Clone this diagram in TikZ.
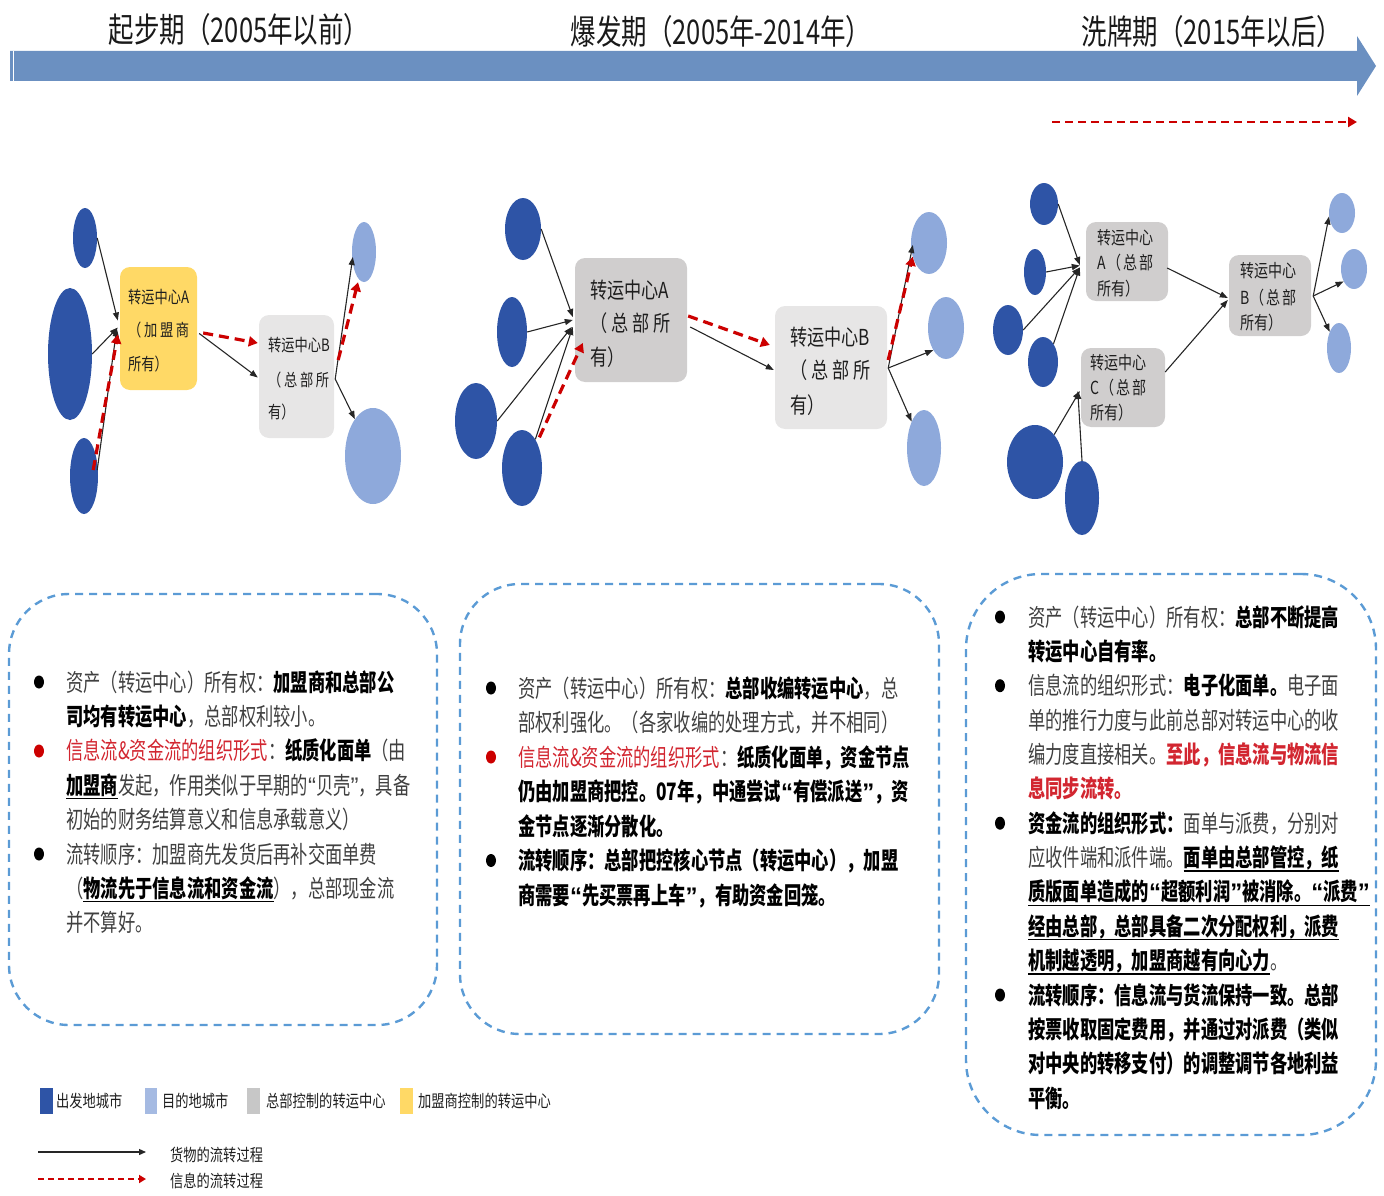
\documentclass[tikz,border=0pt]{standalone}
\usepackage{fontspec}
\usetikzlibrary{shapes.geometric,arrows.meta}

\newfontfamily\bodyfont[FakeStretch=0.72]{Noto Sans CJK SC}
\newfontfamily\lblfont[FakeStretch=0.78]{Noto Sans CJK SC}
\newfontfamily\ttlfont[FakeStretch=0.75]{Noto Sans CJK SC}
\newfontfamily\quotefont{Liberation Sans}

\definecolor{cityA}{RGB}{46,84,166}
\definecolor{cityB}{RGB}{142,169,219}
\definecolor{franchise}{RGB}{255,217,102}
\definecolor{hqdark}{RGB}{208,206,206}
\definecolor{hqlight}{RGB}{231,230,230}
\definecolor{banner}{RGB}{107,144,193}
\definecolor{frame}{RGB}{91,155,213}
\definecolor{flowred}{RGB}{204,0,0}
\definecolor{redtxt}{RGB}{210,38,48}
\definecolor{bodygray}{RGB}{64,64,64}
\definecolor{lblgray}{RGB}{30,30,30}

% inline text helpers
\newcommand\bk[1]{{\bfseries\color{black}#1}}
\newcommand\rd[1]{{\color{redtxt}#1}}
\newcommand\rdb[1]{{\bfseries\color{redtxt}#1}}
\newcommand\oq{{\quotefont “}}
\newcommand\cq{{\quotefont ”}}
\newsavebox\ulbox
\newcommand\ulbar[1]{\sbox\ulbox{#1}\rlap{\color{black}\rule[-5pt]{\wd\ulbox}{1.3pt}}\usebox\ulbox}
\newcommand\spreadto[2]{\makebox[#1][s]{#2}}

\tikzset{
  citysrc/.style={ellipse, fill=cityA, inner sep=0pt},
  citydst/.style={ellipse, fill=cityB, inner sep=0pt},
  hubbox/.style={rounded corners=10pt, inner sep=0pt},
  goods/.style={draw=black!85, line width=1.1pt, -{Triangle[length=8pt,width=6pt]}},
  info/.style={draw=flowred, line width=3.2pt, dash pattern=on 10pt off 6pt,
               -{Triangle[length=9pt,width=10pt]}},
  bodyline/.style={anchor=base west, inner sep=0pt, text=bodygray,
                   font={\bodyfont\fontsize{24pt}{30pt}\selectfont}},
  hublbl/.style={anchor=base west, inner sep=0pt, text=lblgray},
  lblS/.style={hublbl, font={\lblfont\fontsize{17pt}{17pt}\selectfont}},
  lblM/.style={hublbl, font={\lblfont\fontsize{22pt}{22pt}\selectfont}},
  lblT/.style={hublbl, font={\lblfont\fontsize{18pt}{18pt}\selectfont}},
  dot/.style={ellipse, fill=black, minimum width=10pt, minimum height=13pt, inner sep=0pt},
  reddot/.style={dot, fill=flowred},
  panel/.style={draw=frame, line width=2.4pt, dash pattern=on 8pt off 6pt},
  ttl/.style={inner sep=0pt, text=black!90, font={\ttlfont\fontsize{34pt}{34pt}\selectfont}},
  key/.style={anchor=base west, inner sep=0pt, text=lblgray,
              font={\lblfont\fontsize{17pt}{17pt}\selectfont}},
}

\begin{document}
\begin{tikzpicture}[x=1pt,y=-1pt]
\useasboundingbox (0,0) rectangle (1384,1196);

% ---------- time line ----------
\fill[banner] (10,51) -- (1357,51) -- (1357,36) -- (1376,66) -- (1357,96)
              -- (1357,81) -- (10,81) -- cycle;
\draw[white, line width=0.8pt] (13.5,51) -- (13.5,81);
\node[ttl] (ttl1) at (239,30) {起步期（2005年以前）};
\node[ttl] (ttl2) at (721,32) {爆发期（2005年-2014年）};
\node[ttl] (ttl3) at (1212,32) {洗牌期（2015年以后）};
\coordinate (shufStart) at (1052,122);
\coordinate (shufEnd) at (1357,122);
\draw[info, line width=2.8pt, dash pattern=on 8pt off 5pt] (shufStart) -- (shufEnd);

% ---------- stage 1 network ----------
\node[citysrc, minimum width=24pt, minimum height=60pt] (e11) at (85,238) {};
\node[citysrc, minimum width=44pt, minimum height=132pt] (e12) at (70,354) {};
\node[citysrc, minimum width=28pt, minimum height=76pt] (e13) at (84,476) {};
\node[hubbox, fill=franchise, minimum width=77pt, minimum height=123pt] (A1) at (158.5,328.5) {};
\node[hubbox, fill=hqlight, minimum width=75pt, minimum height=123pt] (B1) at (296.5,376.5) {};
\node[citydst, minimum width=24pt, minimum height=60pt] (r11) at (364,252) {};
\node[citydst, minimum width=56pt, minimum height=96pt] (r12) at (373,456) {};

\node[lblS] (A1a) at (128,303) {转运中心A};
\node[lblS] (A1b) at (128,336) {\spreadto{61pt}{（\hfill 加\hfill 盟\hfill 商}};
\node[lblS] (A1c) at (128,370) {所有）};
\node[lblS] (B1a) at (268,351) {转运中心B};
\node[lblS] (B1b) at (268,386) {\spreadto{61pt}{（\hfill 总\hfill 部\hfill 所}};
\node[lblS] (B1c) at (268,418) {有）};

\draw[goods] (e11.east) -- ([shift={(-2,-8)}]A1.west);
\draw[goods] (e12.east) -- ([shift={(-2,-1)}]A1.west);
\draw[goods] ([shift={(-1,-6)}]e13.east) -- ([shift={(-3,0)}]A1.west);
\draw[info] ([shift={(-5,-6)}]e13.east) -- ([shift={(-2,6)}]A1.west);
\draw[goods] ([shift={(2,5)}]A1.east) -- ([shift={(-1,1)}]B1.west);
\draw[info] ([shift={(6,4.5)}]A1.east) -- ([shift={(-1,-33.5)}]B1.west);
\draw[goods] ([shift={(1,2.5)}]B1.east) -- ([shift={(1,5)}]r11.west);
\draw[info] ([shift={(4,-16.5)}]B1.east) -- ([shift={(-6,0)}]r11.south);
\draw[goods] ([shift={(1,2.5)}]B1.east) -- (r12);

% ---------- stage 2 network ----------
\node[citysrc, minimum width=36pt, minimum height=62pt] (e21) at (523,229) {};
\node[citysrc, minimum width=30pt, minimum height=70pt] (e22) at (512,332) {};
\node[citysrc, minimum width=42pt, minimum height=76pt] (e23) at (476,421) {};
\node[citysrc, minimum width=40pt, minimum height=76pt] (e24) at (522,468) {};
\node[hubbox, fill=hqdark, minimum width=112pt, minimum height=124pt] (A2) at (631,320) {};
\node[hubbox, fill=hqlight, minimum width=112pt, minimum height=123pt] (B2) at (831,367.5) {};
\node[citydst, minimum width=36pt, minimum height=62pt] (r21) at (929,243) {};
\node[citydst, minimum width=36pt, minimum height=62pt] (r22) at (946,328) {};
\node[citydst, minimum width=34pt, minimum height=76pt] (r23) at (924,448) {};

\node[lblM] (A2a) at (590,298) {转运中心A};
\node[lblM] (A2b) at (590,331) {\spreadto{80pt}{（\hfill 总\hfill 部\hfill 所}};
\node[lblM] (A2c) at (590,365) {有）};
\node[lblM] (B2a) at (790,345) {转运中心B};
\node[lblM] (B2b) at (790,378) {\spreadto{80pt}{（\hfill 总\hfill 部\hfill 所}};
\node[lblM] (B2c) at (790,413) {有）};

\draw[goods] (e21.east) -- ([shift={(-2,-3)}]A2.west);
\draw[goods] (e22.east) -- ([shift={(-2,0)}]A2.west);
\draw[goods] (e23.east) -- ([shift={(-3,7)}]A2.west);
\draw[goods] (e24.65) -- ([shift={(-2,7)}]A2.west);
\draw[info] ([shift={(4,-2)}]e24.65) -- ([shift={(8,23)}]A2.west);
\draw[goods] ([shift={(3,7)}]A2.east) -- ([shift={(-1,2.5)}]B2.west);
\draw[info] ([shift={(1,-4)}]A2.east) -- ([shift={(-5,-22.5)}]B2.west);
\draw[goods] ([shift={(1,0.5)}]B2.east) -- ([shift={(2,2)}]r21.west);
\draw[info] ([shift={(1,-7.5)}]B2.east) -- (r21.220);
\draw[goods] ([shift={(1,0.5)}]B2.east) -- (r22.240);
\draw[goods] ([shift={(1,0.5)}]B2.east) -- (r23.115);

% ---------- stage 3 network ----------
\node[citysrc, minimum width=28pt, minimum height=42pt] (e31) at (1044,204) {};
\node[citysrc, minimum width=22pt, minimum height=46pt] (e32) at (1035,272) {};
\node[citysrc, minimum width=30pt, minimum height=50pt] (e33) at (1008,330) {};
\node[citysrc, minimum width=30pt, minimum height=50pt] (e34) at (1043,362) {};
\node[citysrc, minimum width=56pt, minimum height=74pt] (e35) at (1035,462) {};
\node[citysrc, minimum width=34pt, minimum height=74pt] (e36) at (1082,498) {};
\node[hubbox, fill=hqdark, minimum width=82pt, minimum height=79pt] (A3) at (1127,261.5) {};
\node[hubbox, fill=hqdark, minimum width=84pt, minimum height=79pt] (C3) at (1123,387.5) {};
\node[hubbox, fill=hqdark, minimum width=82pt, minimum height=81pt] (B3) at (1270,295.5) {};
\node[citydst, minimum width=26pt, minimum height=40pt] (r31) at (1342,213) {};
\node[citydst, minimum width=26pt, minimum height=40pt] (r32) at (1354,269) {};
\node[citydst, minimum width=24pt, minimum height=50pt] (r33) at (1339,348) {};

\node[lblT] (A3a) at (1097,244) {转运中心};
\node[lblT] (A3b) at (1097,269) {\spreadto{56pt}{A\hfill （\hfill 总\hfill 部}};
\node[lblT] (A3c) at (1097,295) {所有）};
\node[lblT] (C3a) at (1090,369) {转运中心};
\node[lblT] (C3b) at (1090,394) {\spreadto{56pt}{C\hfill （\hfill 总\hfill 部}};
\node[lblT] (C3c) at (1090,419) {所有）};
\node[lblT] (B3a) at (1240,277) {转运中心};
\node[lblT] (B3b) at (1240,304) {\spreadto{56pt}{B\hfill （\hfill 总\hfill 部}};
\node[lblT] (B3c) at (1240,329) {所有）};

\draw[goods] (e31.east) -- ([shift={(-6,3.5)}]A3.west);
\draw[goods] (e32.east) -- ([shift={(-6,4)}]A3.west);
\draw[goods] (e33.east) -- ([shift={(-6,6)}]A3.west);
\draw[goods] (e34.60) -- ([shift={(-6,6)}]A3.west);
\draw[goods] ([shift={(-1,6.5)}]A3.east) -- ([shift={(-1,2.5)}]B3.west);
\draw[goods] ([shift={(0,-15.5)}]C3.east) -- ([shift={(-1,4.5)}]B3.west);
\draw[goods] (e35.55) -- ([shift={(-1,3.5)}]C3.west);
\draw[goods] (e36.north) -- ([shift={(-3,3.5)}]C3.west);
\draw[goods] ([shift={(2,0.5)}]B3.east) -- (r31.195);
\draw[goods] ([shift={(2,0.5)}]B3.east) -- (r32.230);
\draw[goods] ([shift={(2,0.5)}]B3.east) -- (r33.120);

% ---------- description panels ----------
\node[panel, rounded corners=60pt, minimum width=428pt, minimum height=431pt] (panel1) at (223,809.5) {};
\node[panel, rounded corners=60pt, minimum width=479pt, minimum height=450pt] (panel2) at (699.5,809) {};
\node[panel, rounded corners=75pt, minimum width=410pt, minimum height=561pt] (panel3) at (1171,854.5) {};

% panel 1
\node[dot] (p1d1) at (39,682) {};
\node[reddot] (p1d2) at (39,751) {};
\node[dot] (p1d3) at (39,854) {};
\node[bodyline] (p1l1) at (66,691) {资产（转运中心）所有权：\bk{加盟商和总部公}};
\node[bodyline] (p1l2) at (66,725.4) {\bk{司均有转运中心}，总部权利较小。};
\node[bodyline] (p1l3) at (66,759.8) {\rd{信息流\&资金流的组织形式}：\bk{纸质化面单}（由};
\node[bodyline] (p1l4) at (66,794.2) {\ulbar{\bk{加盟商}}发起，作用类似于早期的\oq 贝壳\cq ，具备};
\node[bodyline] (p1l5) at (66,828.6) {初始的财务结算意义和信息承载意义）};
\node[bodyline] (p1l6) at (66,863) {流转顺序：加盟商先发货后再补交面单费};
\node[bodyline] (p1l7) at (66,897.4) {（\ulbar{\bk{物流先于信息流和资金流}}），总部现金流};
\node[bodyline] (p1l8) at (66,931.8) {并不算好。};

% panel 2
\node[dot] (p2d1) at (491,688) {};
\node[reddot] (p2d2) at (491,757) {};
\node[dot] (p2d3) at (491,860.5) {};
\node[bodyline] (p2l1) at (518,697) {资产（转运中心）所有权：\bk{总部收编转运中心}，总};
\node[bodyline] (p2l2) at (518,731.5) {部权利强化。（各家收编的处理方式，并不相同）};
\node[bodyline] (p2l3) at (518,766) {\rd{信息流\&资金流的组织形式}：\bk{纸质化面单，资金节点}};
\node[bodyline] (p2l4) at (518,800.5) {\bk{仍由加盟商把控。07年，中通尝试\oq 有偿派送\cq ，资}};
\node[bodyline] (p2l5) at (518,835) {\bk{金节点逐渐分散化。}};
\node[bodyline] (p2l6) at (518,869.5) {\bk{流转顺序：总部把控核心节点（转运中心），加盟}};
\node[bodyline] (p2l7) at (518,904) {\bk{商需要\oq 先买票再上车\cq ，有助资金回笼。}};

% panel 3
\node[dot] (p3d1) at (1000,617) {};
\node[dot] (p3d2) at (1000,685.7) {};
\node[dot] (p3d3) at (1000,823.2) {};
\node[dot] (p3d4) at (1000,995) {};
\node[bodyline] (p3l1) at (1028,626) {资产（转运中心）所有权：\bk{总部不断提高}};
\node[bodyline] (p3l2) at (1028,660.4) {\bk{转运中心自有率。}};
\node[bodyline] (p3l3) at (1028,694.7) {信息流的组织形式：\bk{电子化面单。}电子面};
\node[bodyline] (p3l4) at (1028,729.1) {单的推行力度与此前总部对转运中心的收};
\node[bodyline] (p3l5) at (1028,763.4) {编力度直接相关。\rdb{至此，信息流与物流信}};
\node[bodyline] (p3l6) at (1028,797.8) {\rdb{息同步流转。}};
\node[bodyline] (p3l7) at (1028,832.2) {\bk{资金流的组织形式：}面单与派费，分别对};
\node[bodyline] (p3l8) at (1028,866.5) {应收件端和派件端。\ulbar{\bk{面单由总部管控，纸}}};
\node[bodyline] (p3l9) at (1028,900.9) {\ulbar{\bk{质版面单造成的\oq 超额利润\cq 被消除。\oq 派费\cq}}};
\node[bodyline] (p3l10) at (1028,935.2) {\ulbar{\bk{经由总部，总部具备二次分配权利，派费}}};
\node[bodyline] (p3l11) at (1028,969.6) {\ulbar{\bk{机制越透明，加盟商越有向心力}}。};
\node[bodyline] (p3l12) at (1028,1004) {\bk{流转顺序：信息流与货流保持一致。总部}};
\node[bodyline] (p3l13) at (1028,1038.3) {\bk{按票收取固定费用，并通过对派费（类似}};
\node[bodyline] (p3l14) at (1028,1072.7) {\bk{对中央的转移支付）的调整调节各地利益}};
\node[bodyline] (p3l15) at (1028,1107) {\bk{平衡。}};

% ---------- legend ----------
\node[fill=cityA, minimum width=13pt, minimum height=26pt, inner sep=0pt] (kA) at (46.5,1101) {};
\node[key] (kAt) at (56,1107) {出发地城市};
\node[fill=cityB!80!white, minimum width=12pt, minimum height=26pt, inner sep=0pt] (kB) at (151,1101) {};
\node[key] (kBt) at (162,1107) {目的地城市};
\node[fill=black!22, minimum width=13pt, minimum height=26pt, inner sep=0pt] (kC) at (253.5,1101) {};
\node[key] (kCt) at (266,1107) {总部控制的转运中心};
\node[fill=franchise, minimum width=13pt, minimum height=26pt, inner sep=0pt] (kD) at (406.5,1101) {};
\node[key] (kDt) at (418,1107) {加盟商控制的转运中心};

\coordinate (kg1) at (38,1152);
\coordinate (kg2) at (146,1152);
\draw[goods, line width=1.3pt, -{Triangle[length=7pt,width=6pt]}] (kg1) -- (kg2);
\node[key] (kGt) at (170,1161) {货物的流转过程};
\coordinate (ki1) at (38,1179);
\coordinate (ki2) at (146,1179);
\draw[info, line width=2pt, dash pattern=on 6pt off 4pt, -{Triangle[length=7pt,width=8pt]}] (ki1) -- (ki2);
\node[key] (kIt) at (170,1187) {信息的流转过程};
\end{tikzpicture}
\end{document}
